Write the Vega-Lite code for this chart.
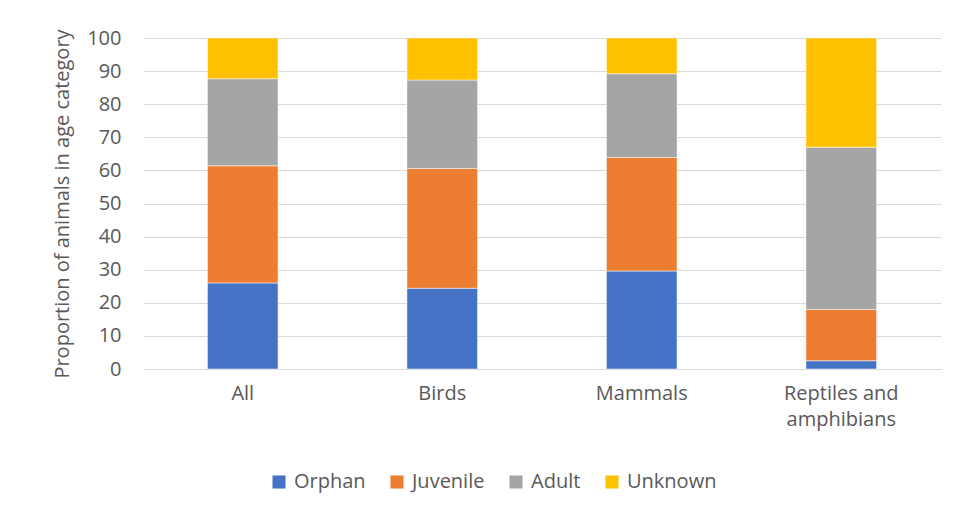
{
  "$schema": "https://vega.github.io/schema/vega-lite/v6.json",
  "autosize": {"type": "none"},
  "padding": {"left": 143, "top": 38, "right": 27, "bottom": 149},
  "width": 798,
  "height": 331,
  "background": "white",
  "config": {
    "font": "Open Sans",
    "view": {"stroke": null},
    "axis": {
      "labelColor": "#595959",
      "titleColor": "#595959",
      "labelFont": "Open Sans",
      "titleFont": "Open Sans",
      "labelFontSize": 20,
      "titleFontSize": 20,
      "titleFontWeight": "normal",
      "ticks": false,
      "gridColor": "#D9D9D9",
      "gridWidth": 1,
      "domainColor": "#D9D9D9",
      "domainWidth": 1
    },
    "legend": {
      "labelColor": "#595959",
      "labelFont": "Open Sans",
      "labelFontSize": 20
    }
  },
  "data": {
    "values": [
      {"group": "All", "age": "Orphan", "k": 1, "pct": 26.0},
      {"group": "All", "age": "Juvenile", "k": 2, "pct": 35.4},
      {"group": "All", "age": "Adult", "k": 3, "pct": 26.3},
      {"group": "All", "age": "Unknown", "k": 4, "pct": 12.3},
      {"group": "Birds", "age": "Orphan", "k": 1, "pct": 24.4},
      {"group": "Birds", "age": "Juvenile", "k": 2, "pct": 36.2},
      {"group": "Birds", "age": "Adult", "k": 3, "pct": 26.7},
      {"group": "Birds", "age": "Unknown", "k": 4, "pct": 12.7},
      {"group": "Mammals", "age": "Orphan", "k": 1, "pct": 29.6},
      {"group": "Mammals", "age": "Juvenile", "k": 2, "pct": 34.3},
      {"group": "Mammals", "age": "Adult", "k": 3, "pct": 25.3},
      {"group": "Mammals", "age": "Unknown", "k": 4, "pct": 10.8},
      {"group": "Reptiles and amphibians", "age": "Orphan", "k": 1, "pct": 2.5},
      {"group": "Reptiles and amphibians", "age": "Juvenile", "k": 2, "pct": 15.5},
      {"group": "Reptiles and amphibians", "age": "Adult", "k": 3, "pct": 49.0},
      {"group": "Reptiles and amphibians", "age": "Unknown", "k": 4, "pct": 33.0}
    ]
  },
  "mark": {"type": "bar", "stroke": "white", "strokeWidth": 0.5},
  "encoding": {
    "x": {
      "field": "group",
      "type": "nominal",
      "sort": ["All", "Birds", "Mammals", "Reptiles and amphibians"],
      "scale": {"paddingInner": 0.646, "paddingOuter": 0.323},
      "axis": {
        "title": null,
        "labelAngle": 0,
        "labelPadding": 14,
        "labelLineHeight": 26,
        "labelExpr": "datum.label == 'Reptiles and amphibians' ? ['Reptiles and', 'amphibians'] : datum.label"
      }
    },
    "y": {
      "field": "pct",
      "type": "quantitative",
      "stack": "zero",
      "scale": {"domain": [0, 100], "nice": false},
      "axis": {
        "title": "Proportion of animals in age category",
        "values": [0, 10, 20, 30, 40, 50, 60, 70, 80, 90, 100],
        "domain": false,
        "labelPadding": 22,
        "titlePadding": 14
      }
    },
    "color": {
      "field": "age",
      "type": "nominal",
      "sort": ["Orphan", "Juvenile", "Adult", "Unknown"],
      "scale": {
        "domain": ["Orphan", "Juvenile", "Adult", "Unknown"],
        "range": ["#4472C4", "#ED7D31", "#A5A5A5", "#FFC000"]
      },
      "legend": {
        "title": null,
        "orient": "none",
        "direction": "horizontal",
        "legendX": 126,
        "legendY": 434,
        "symbolType": "square",
        "symbolSize": 170,
        "symbolStrokeWidth": 0,
        "labelOffset": 5,
        "columnPadding": 21
      }
    },
    "order": {"field": "k", "type": "quantitative", "sort": "ascending"}
  }
}
